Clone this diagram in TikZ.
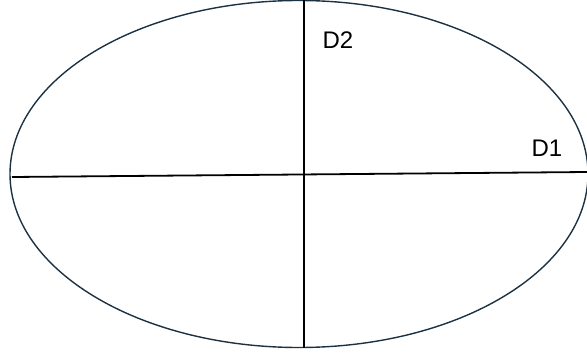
\documentclass[tikz,border=0pt]{standalone}
\usepackage{fontspec}
\setmainfont{Liberation Sans}
\usepackage{tikz}
\usetikzlibrary{positioning, calc}
\usepackage{xcolor}
\definecolor{rim}{RGB}{28,50,66}

\begin{document}
\begin{tikzpicture}[x=1pt, y=-1pt]
  \useasboundingbox (0,0) rectangle (587,356);
  % Outline
  \draw[rim, line width=1.4pt] (299,174) ellipse [x radius=289, y radius=173.5];
  % Axis ends
  \coordinate (west) at (12,177);
  \coordinate (east) at (587,172);
  \coordinate (north) at (304,0);
  \coordinate (south) at (304,348);
  \draw[line width=1.8pt] (west) -- (east);
  \draw[line width=1.8pt] (north) -- (south);
  % Labels
  \node[font=\fontsize{24}{28}\selectfont] (d1) at (547,148) {D1};
  \node[font=\fontsize{24}{28}\selectfont] (d2) at (338,40) {D2};
\end{tikzpicture}
\end{document}
